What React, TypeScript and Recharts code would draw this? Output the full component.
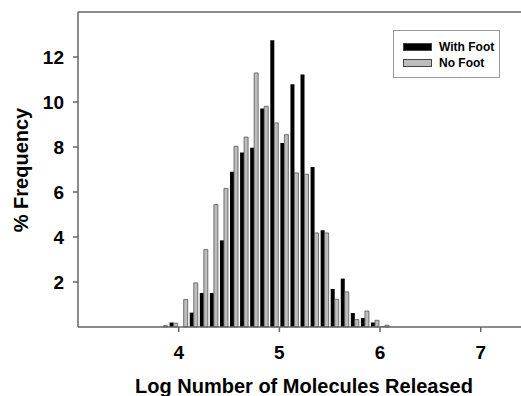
import { BarChart, Bar, XAxis, YAxis, ReferenceLine, Label } from 'recharts';

// bin centres (log10 of molecules released), 0.1 wide
const bins = [3.85, 3.95, 4.05, 4.15, 4.25, 4.35, 4.45, 4.55, 4.65, 4.75, 4.85, 4.95, 5.05, 5.15, 5.25, 5.35, 5.45, 5.55, 5.65, 5.75, 5.85, 5.95, 6.05];
const withFoot = [0, 0.2, 0, 0.64, 1.51, 1.51, 3.85, 6.9, 7.76, 7.97, 9.71, 12.74, 8.18, 10.79, 11.22, 7.11, 4.3, 1.69, 2.15, 0.62, 0.4, 0.2, 0.03];
const noFoot = [0.06, 0.17, 1.22, 1.96, 3.44, 5.44, 6.16, 8.03, 8.44, 11.29, 9.81, 9.07, 8.55, 6.85, 6.79, 4.18, 4.18, 1.23, 1.56, 0.33, 0.71, 0.3, 0.08];
const xTicks = [4, 5, 6, 7];
const yTicks = [2, 4, 6, 8, 10, 12];

const data = bins.map((b, i) => ({ bin: b, withFoot: withFoot[i], noFoot: noFoot[i] }));

const FONT = '"Liberation Sans", Arial, sans-serif';
const AXIS = '#666';

function LegendBox() {
  const row = (fill: string, label: string) => (
    <div style={{ display: 'flex', alignItems: 'center', height: 16 }}>
      <div style={{ width: 27, height: 6, background: fill, border: '1px solid #444', marginRight: 7 }} />
      <span style={{ fontSize: 12, fontWeight: 'bold', color: '#000' }}>{label}</span>
    </div>
  );
  return (
    <div
      style={{
        position: 'absolute',
        left: 393,
        top: 30,
        width: 107,
        height: 48,
        boxSizing: 'border-box',
        border: '1px solid #999',
        background: '#fff',
        padding: '8px 0 0 9px',
        fontFamily: FONT,
      }}
    >
      {row('#000', 'With Foot')}
      {row('#bdbdbd', 'No Foot')}
    </div>
  );
}

export default function App() {
  return (
    <div style={{ position: 'absolute', left: 0, top: 0, width: 521, height: 396, background: '#fff' }}>
      <BarChart
        width={521}
        height={396}
        data={data}
        margin={{ top: 12, right: 0, bottom: 0, left: 0 }}
        barGap={0}
        style={{ fontFamily: FONT }}
      >
        <XAxis
          dataKey="bin"
          type="number"
          domain={[3, 7.4]}
          ticks={xTicks}
          allowDataOverflow
          height={69}
          stroke={AXIS}
          strokeWidth={1.5}
          tickSize={5}
          tickMargin={14}
          tick={{ fill: '#000', fontSize: 19, fontWeight: 'bold' }}
        >
          <Label
            content={() => (
              <text x={304} y={393} textAnchor="middle" fontSize={20} fontWeight="bold" fill="#000" fontFamily={FONT}>
                Log Number of Molecules Released
              </text>
            )}
          />
        </XAxis>
        <YAxis
          domain={[0, 14]}
          ticks={yTicks}
          width={78}
          stroke={AXIS}
          strokeWidth={1.5}
          tickSize={5}
          tickMargin={9}
          tick={{ fill: '#000', fontSize: 19, fontWeight: 'bold' }}
        >
          <Label
            content={() => (
              <text
                x={28}
                y={170}
                transform="rotate(-90 28 170)"
                textAnchor="middle"
                fontSize={20}
                fontWeight="bold"
                fill="#000"
                fontFamily={FONT}
              >
                % Frequency
              </text>
            )}
          />
        </YAxis>
        <ReferenceLine y={14} stroke={AXIS} strokeWidth={1.5} />
        <Bar dataKey="withFoot" name="With Foot" fill="#000" barSize={4} isAnimationActive={false} />
        <Bar dataKey="noFoot" name="No Foot" fill="#bdbdbd" stroke="#555" strokeWidth={0.8} barSize={4} isAnimationActive={false} />
      </BarChart>
      <LegendBox />
    </div>
  );
}
